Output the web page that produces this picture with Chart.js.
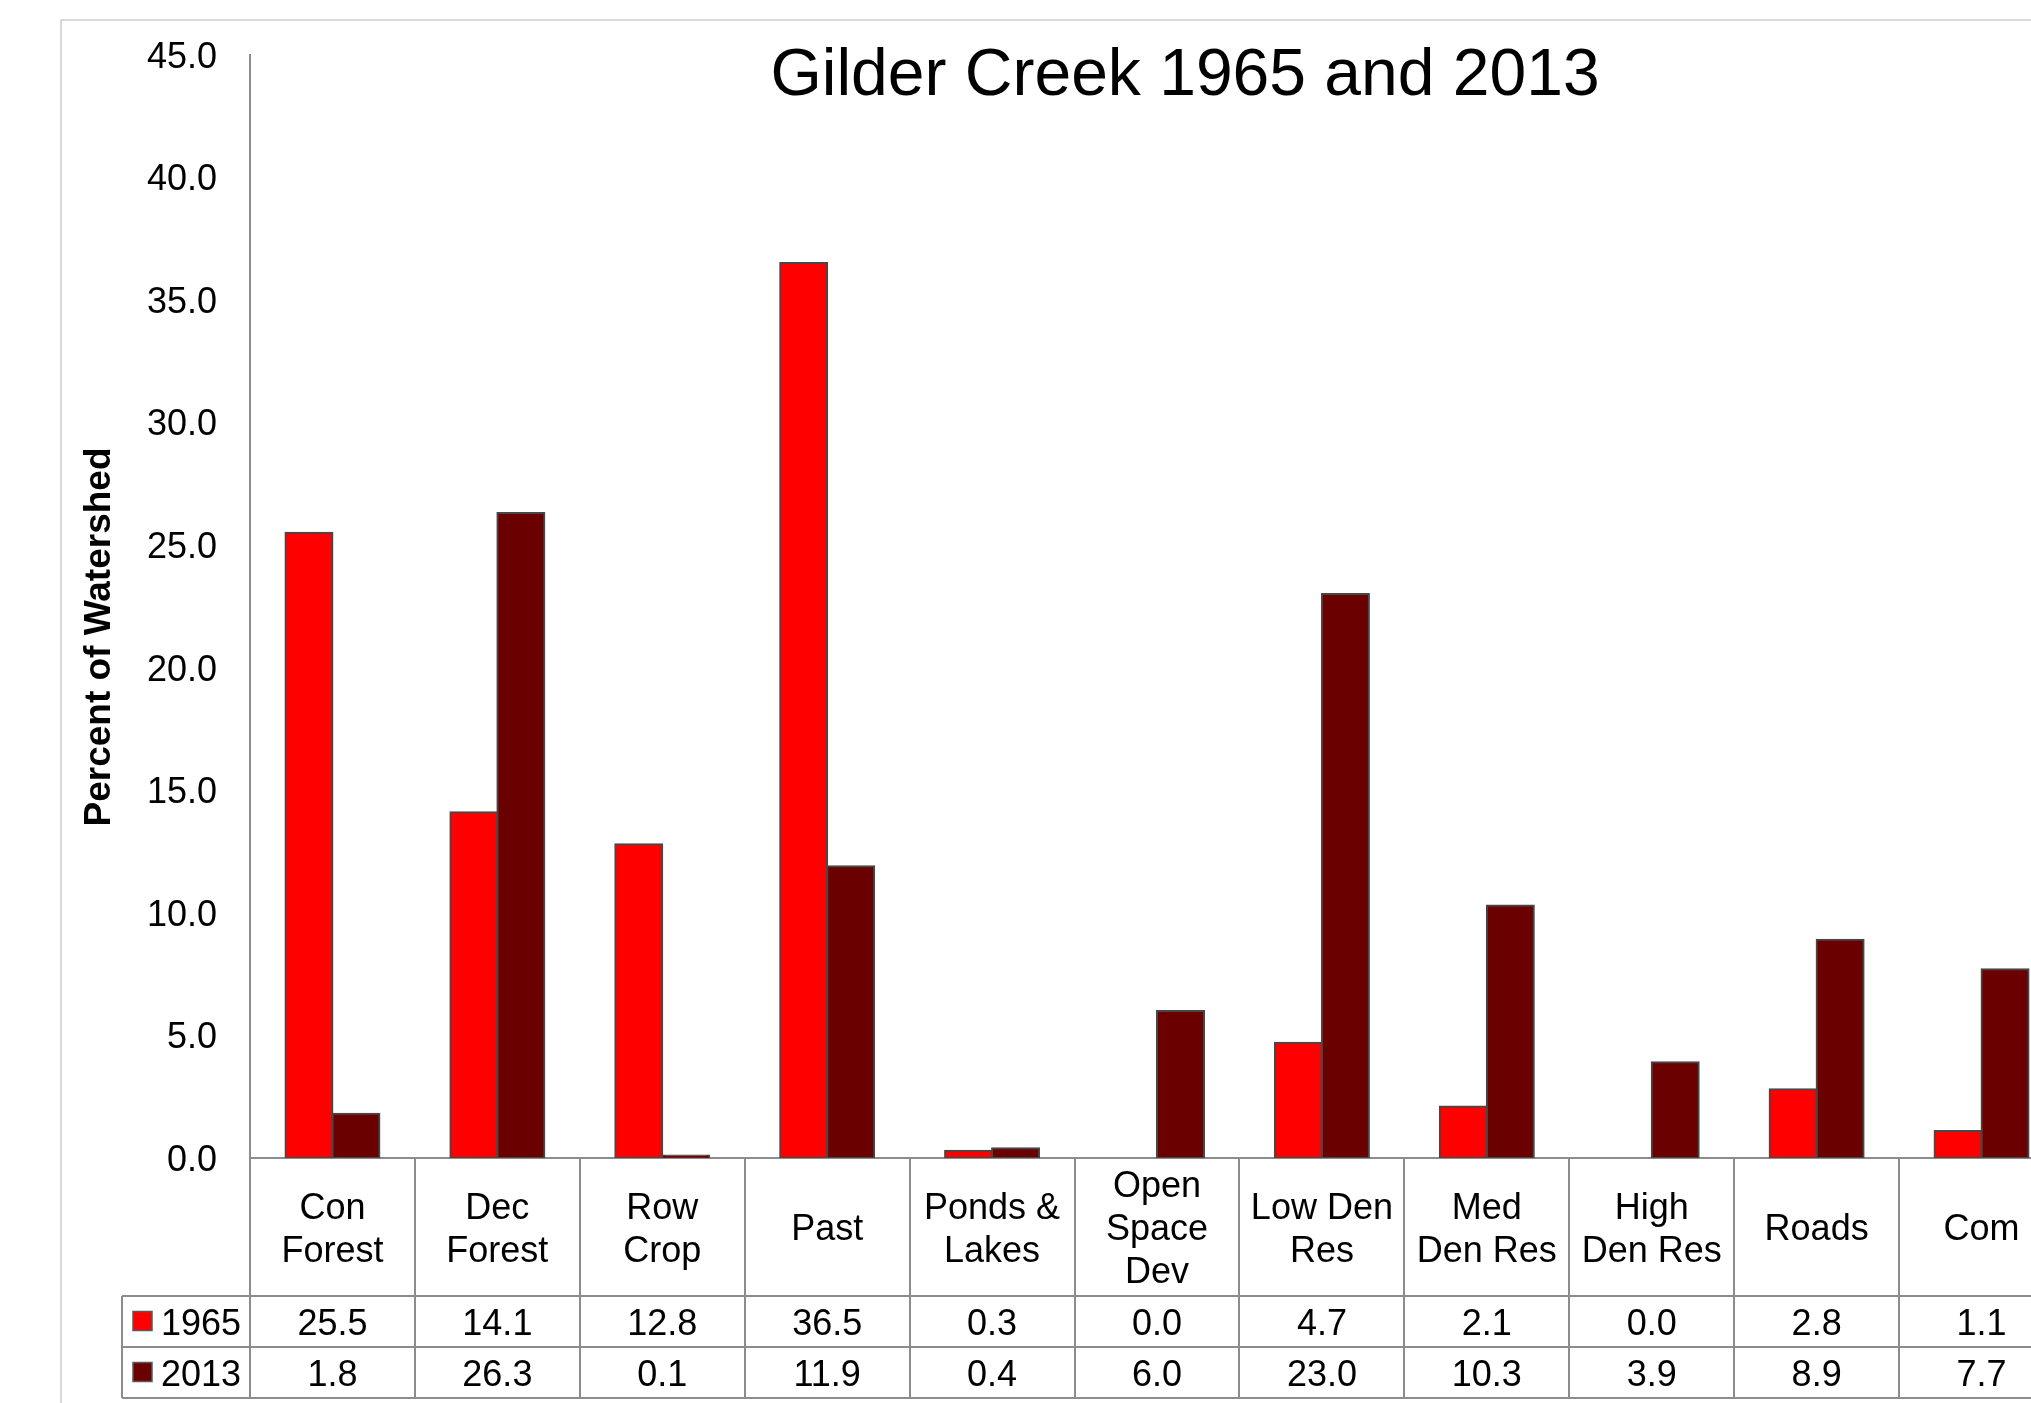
<!DOCTYPE html>
<html>
<head>
<meta charset="utf-8">
<title>Gilder Creek 1965 and 2013</title>
<script src="https://cdn.jsdelivr.net/npm/chart.js@4.4.1/dist/chart.umd.min.js"></script>
<style>
  html, body { margin: 0; padding: 0; background: #fff; overflow: hidden; }
  canvas { display: block; }
</style>
</head>
<body>
<canvas id="chart" width="2100" height="1403"></canvas>
<script>
// Land use in the Gilder Creek watershed, percent of total area per class
let categories = [["Con", "Forest"], ["Dec", "Forest"], ["Row", "Crop"], "Past",
                  ["Ponds &", "Lakes"], ["Open", "Space", "Dev"], ["Low Den", "Res"],
                  ["Med", "Den Res"], ["High", "Den Res"], "Roads", "Com"]
let years = ["1965", "2013"]
let pct_1965 = [25.5, 14.1, 12.8, 36.5, 0.3, 0.0, 4.7, 2.1, 0.0, 2.8, 1.1]
let pct_2013 = [1.8, 26.3, 0.1, 11.9, 0.4, 6.0, 23.0, 10.3, 3.9, 8.9, 7.7]
let y_ticks = [0, 5, 10, 15, 20, 25, 30, 35, 40, 45]

let colors = ["#ff0000", "#6b0000"]
let series = [pct_1965, pct_2013]

const FONT = "'Liberation Sans', Arial, Helvetica, sans-serif"
const LINE = "#8c8c8c"
const ROW_H = 51

// Frame, titles and the data table under the category axis.  The table
// columns follow the x scale so they always line up with the bars.
let table_plugin = {
    id: "dataTable",
    beforeDraw(chart) {
        let ctx = chart.ctx
        ctx.save()
        ctx.strokeStyle = "#d9d9d9"
        ctx.lineWidth = 2
        ctx.strokeRect(61, 20, chart.width + 100, chart.height + 100)
        ctx.restore()
    },
    afterDraw(chart) {
        let ctx = chart.ctx
        let xs = chart.scales.x
        let area = chart.chartArea
        let half = (xs.getPixelForValue(1) - xs.getPixelForValue(0)) / 2
        let top = xs.top
        let y0 = xs.bottom
        let legend_left = 122
        ctx.save()

        ctx.fillStyle = "#000"
        ctx.textAlign = "center"
        ctx.textBaseline = "alphabetic"
        ctx.font = "66px " + FONT
        ctx.fillText("Gilder Creek 1965 and 2013", 1185, 95)

        ctx.save()
        ctx.translate(100, 637)
        ctx.rotate(-Math.PI / 2)
        ctx.font = "bold 37px " + FONT
        ctx.textBaseline = "middle"
        ctx.fillText("Percent of Watershed", 0, 0)
        ctx.restore()

        // grid of the table
        ctx.strokeStyle = LINE
        ctx.lineWidth = 2
        ctx.beginPath()
        for (let i = 0; i <= categories.length; i++) {
            let x = Math.round(xs.getPixelForValue(i) - half)
            ctx.moveTo(x, top)
            ctx.lineTo(x, y0 + ROW_H * years.length)
        }
        for (let r = 0; r <= years.length; r++) {
            let y = y0 + ROW_H * r
            ctx.moveTo(legend_left, y)
            ctx.lineTo(area.right, y)
        }
        ctx.moveTo(legend_left, y0)
        ctx.lineTo(legend_left, y0 + ROW_H * years.length)
        ctx.stroke()

        ctx.font = "36px " + FONT
        ctx.textBaseline = "middle"
        for (let r = 0; r < years.length; r++) {
            let cy = y0 + ROW_H * r + ROW_H / 2
            // legend key
            ctx.fillStyle = colors[r]
            ctx.fillRect(133, cy - 10, 19, 19)
            ctx.strokeStyle = "#595959"
            ctx.lineWidth = 1.5
            ctx.strokeRect(133, cy - 10, 19, 19)
            ctx.fillStyle = "#000"
            ctx.textAlign = "left"
            ctx.fillText(years[r], 161, cy + 4)
            ctx.textAlign = "center"
            series[r].forEach((v, i) => {
                ctx.fillText(v.toFixed(1), xs.getPixelForValue(i), cy + 4)
            })
        }
        ctx.restore()
    }
}

let chart = new Chart(document.getElementById("chart"), {
    type: "bar",
    data: {
        labels: categories,
        datasets: years.map((yr, i) => ({
            label: yr,
            data: series[i],
            backgroundColor: colors[i],
            borderColor: "#474747",
            borderWidth: 2,
            borderSkipped: false,
            inflateAmount: 1,
            categoryPercentage: 0.57,
            barPercentage: 1.0,
        }))
    },
    options: {
        responsive: false,
        animation: false,
        events: [],
        layout: { padding: { left: 0, top: 54, right: 36, bottom: 107 } },
        plugins: {
            legend: { display: false },
            title: { display: false },
            tooltip: { enabled: false },
        },
        scales: {
            x: {
                offset: true,
                grid: { display: false, drawTicks: false },
                border: { display: true, color: LINE, width: 2 },
                ticks: {
                    color: "#000",
                    font: { family: FONT, size: 36, lineHeight: 1.2 },
                    padding: 29,
                    crossAlign: "center",
                    maxRotation: 0,
                    minRotation: 0,
                    autoSkip: false,
                },
                afterFit: (s) => { s.height = 138 },
            },
            y: {
                min: y_ticks[0],
                max: y_ticks[y_ticks.length - 1],
                grid: { display: false, drawTicks: false },
                border: { display: true, color: LINE, width: 2 },
                ticks: {
                    color: "#000",
                    font: { family: FONT, size: 36 },
                    padding: 33,
                    labelOffset: 3,
                    callback: (v) => v.toFixed(1),
                },
                afterBuildTicks: (s) => { s.ticks = y_ticks.map(v => ({ value: v })) },
                afterFit: (s) => { s.width = 250 },
            }
        }
    },
    plugins: [table_plugin]
})
</script>
</body>
</html>
